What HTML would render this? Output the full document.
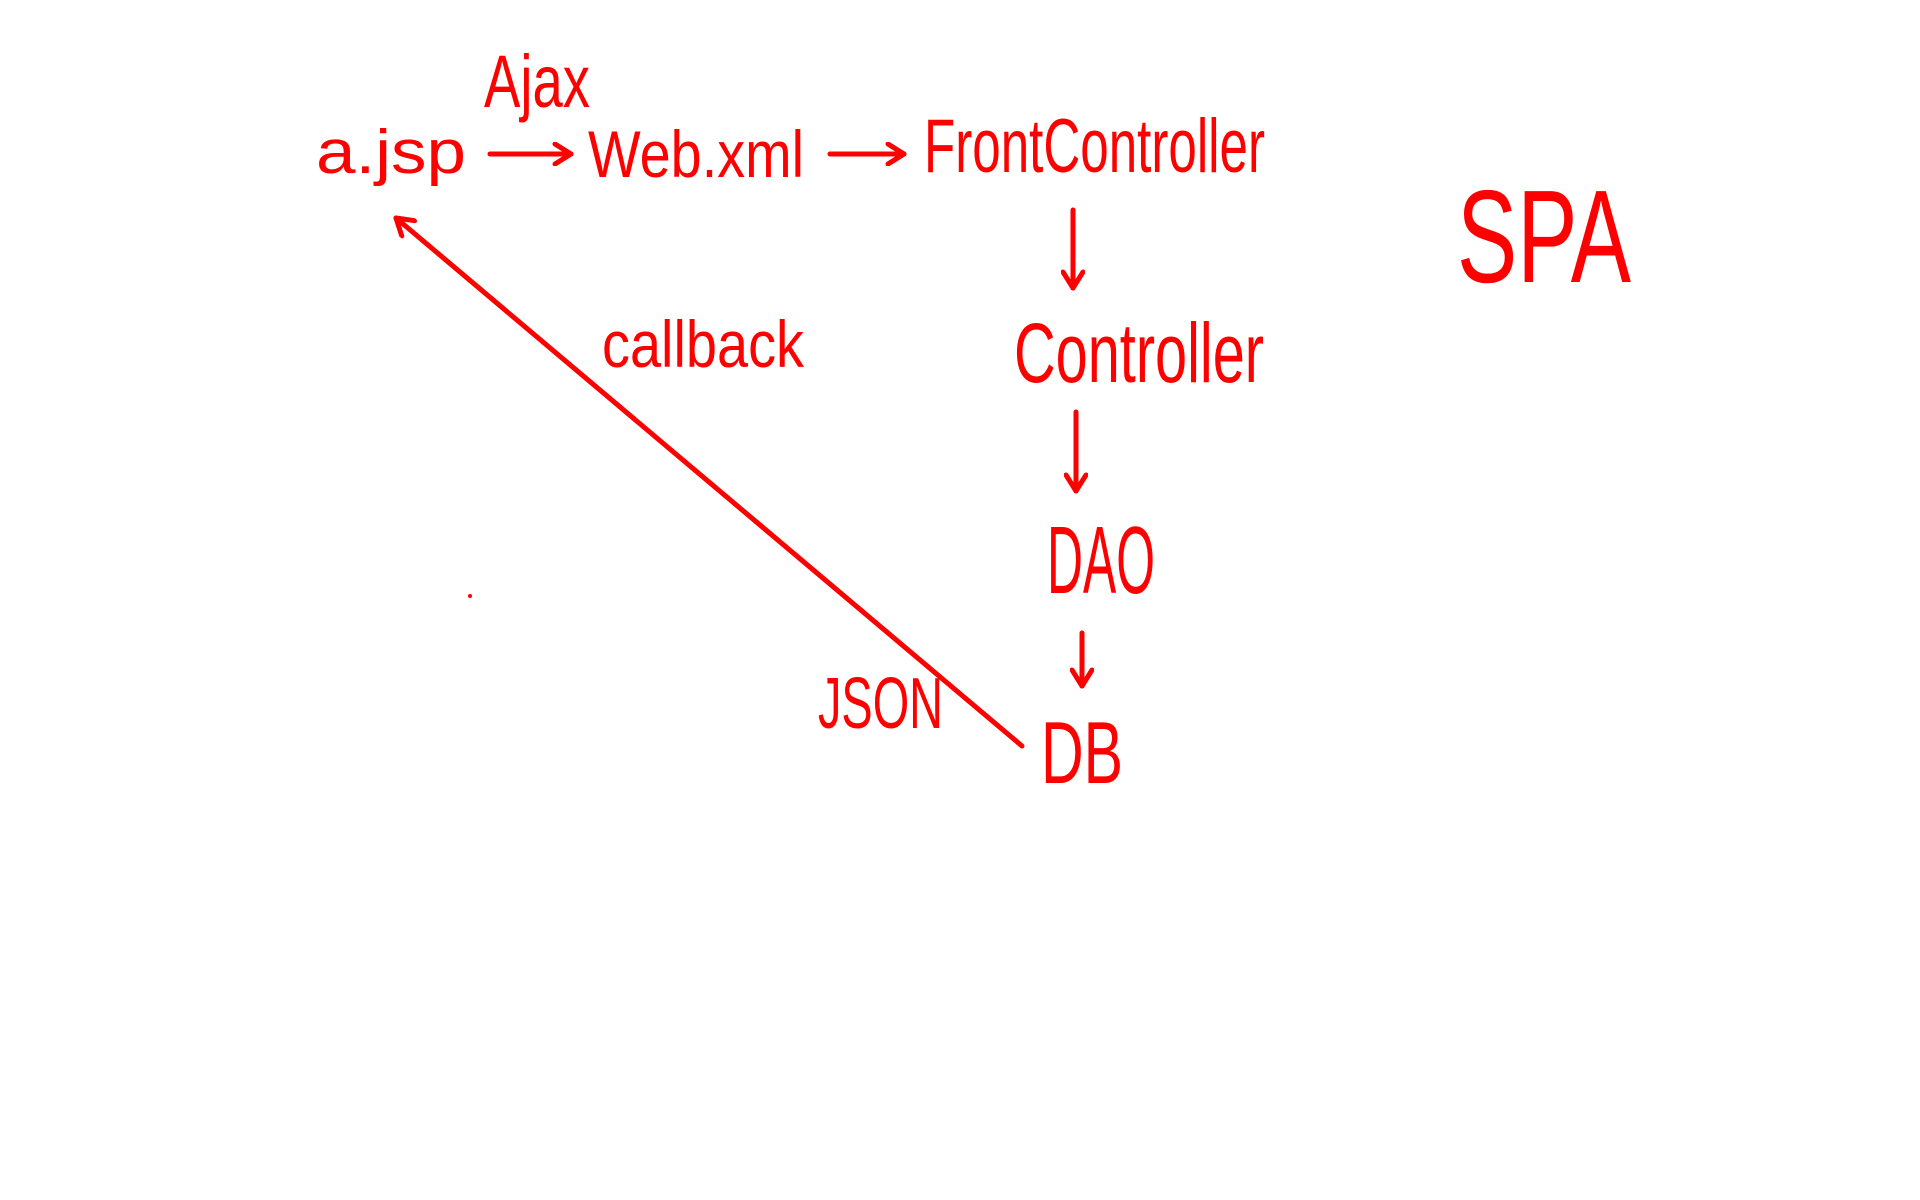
<!DOCTYPE html>
<html><head><meta charset="utf-8"><style>
html,body{margin:0;padding:0;background:#fff;}
svg{display:block}
text{font-family:"Liberation Sans",sans-serif;fill:#f00;}
</style></head><body>
<svg width="1920" height="1200" viewBox="0 0 1920 1200" xmlns="http://www.w3.org/2000/svg">
<defs>
<marker id="ah2" markerWidth="24" markerHeight="24" refX="20" refY="12" orient="auto" markerUnits="userSpaceOnUse"><path d="M4,2 L20,12 L4,22" fill="none" stroke="#f00" stroke-width="5" stroke-linecap="round" stroke-linejoin="round"/></marker></defs>
<g stroke="#f00" stroke-width="5" stroke-linecap="round" fill="none">
<line x1="490" y1="154" x2="571" y2="154" marker-end="url(#ah2)"/>
<line x1="830" y1="154" x2="904" y2="154" marker-end="url(#ah2)"/>
<line x1="1073" y1="210" x2="1073" y2="288" marker-end="url(#ah2)"/>
<line x1="1076" y1="412" x2="1076" y2="491" marker-end="url(#ah2)"/>
<line x1="1082" y1="633" x2="1082" y2="686" marker-end="url(#ah2)"/>
<line x1="1022" y1="746" x2="396" y2="218" marker-end="url(#ah2)"/>
</g>
<circle cx="470" cy="596" r="2" fill="#f00"/>
<g>
<text x="316" y="173" font-size="62" textLength="150" lengthAdjust="spacingAndGlyphs">a.jsp</text>
<text x="484" y="107" font-size="74" textLength="106" lengthAdjust="spacingAndGlyphs">Ajax</text>
<text x="588" y="177" font-size="66" textLength="216" lengthAdjust="spacingAndGlyphs">Web.xml</text>
<text x="924" y="172" font-size="76" textLength="341" lengthAdjust="spacingAndGlyphs">FrontController</text>
<text x="1014" y="382" font-size="84" textLength="250" lengthAdjust="spacingAndGlyphs">Controller</text>
<text x="1047" y="593" font-size="96" textLength="108" lengthAdjust="spacingAndGlyphs">DAO</text>
<text x="1041" y="783" font-size="88" textLength="82" lengthAdjust="spacingAndGlyphs">DB</text>
<text x="602" y="367" font-size="66" textLength="202" lengthAdjust="spacingAndGlyphs">callback</text>
<text x="818" y="728" font-size="72" textLength="125" lengthAdjust="spacingAndGlyphs">JSON</text>
<text x="1457" y="282" font-size="132" textLength="174" lengthAdjust="spacingAndGlyphs">SPA</text>
</g>
</svg>
</body></html>
